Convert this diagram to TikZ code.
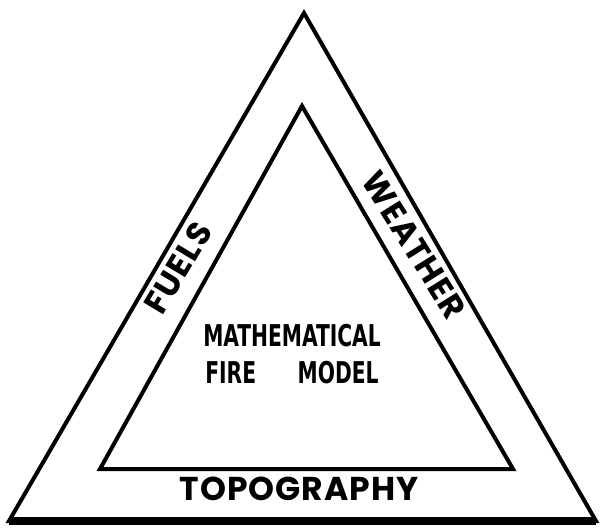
\documentclass[tikz,border=0pt]{standalone}
\usepackage{fontspec}
\newfontfamily\geo[LetterSpace=3]{Poppins}
\newfontfamily\cond{DejaVu Sans Condensed}
\begin{document}
\begin{tikzpicture}[x=1pt,y=-1pt,line join=miter,
  sidelabel/.style={inner sep=0pt,font=\geo\bfseries\fontsize{33}{33}\selectfont},
  centerlabel/.style={inner sep=0pt,font=\cond\bfseries\fontsize{30}{37}\selectfont,xscale=0.75,align=center}]
\useasboundingbox (0,0) rectangle (602,528);
\fill[white] (0,0) rectangle (602,528);
\coordinate (oa) at (304,13);
\coordinate (ol) at (9,521);
\coordinate (or) at (596,521);
\coordinate (ia) at (302,106);
\coordinate (il) at (100,469);
\coordinate (ir) at (513,469);
\draw[line width=4] (oa) -- (ol) -- (or) -- cycle;
\draw[line width=8] (ol) -- (or);
\draw[line width=4] (ia) -- (il) -- (ir) -- cycle;
\node[sidelabel,rotate=59] (fuels) at (178,268) {FUELS};
\node[sidelabel,rotate=-58] (weather) at (414,245) {WEATHER};
\node[sidelabel] (topo) at (299,489) {TOPOGRAPHY};
\node[centerlabel] (model) at (292,354) {MATHEMATICAL\\\makebox[231pt]{FIRE\hfill MODEL}};
\end{tikzpicture}
\end{document}
